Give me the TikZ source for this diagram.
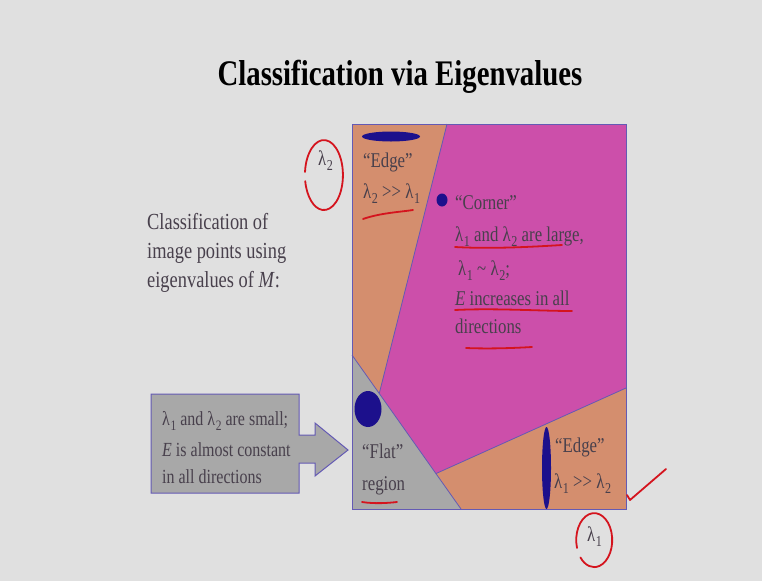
\documentclass[tikz,border=0pt]{standalone}
\usepackage{fontspec}
\setmainfont[FakeStretch=0.8]{Liberation Serif}
\usetikzlibrary{calc}
\definecolor{bgc}{RGB}{224,224,224}
\definecolor{orng}{RGB}{212,142,110}
\definecolor{mgnt}{RGB}{204,79,170}
\definecolor{flatg}{RGB}{168,168,168}
\definecolor{txtg}{RGB}{72,64,76}
\definecolor{navy2}{RGB}{28,16,140}
\definecolor{bord}{RGB}{100,90,180}
\definecolor{pen}{RGB}{212,20,30}
\newcommand\lsub[2]{#1\kern0.03em\raisebox{-0.28em}{\scalebox{0.72}{#2}}}
\begin{document}
\begin{tikzpicture}[x=1pt,y=-1pt,
  txt/.style={anchor=base west, inner sep=0pt, text=txtg, font=\fontsize{21}{25}\selectfont},
  lefttxt/.style={anchor=base west, inner sep=0pt, text=txtg, font=\fontsize{23}{29}\selectfont},
  boxtxt/.style={anchor=base west, inner sep=0pt, text=txtg, font=\fontsize{20}{24}\selectfont},
  divider/.style={draw=bord, line width=0.8pt},
  blob/.style={fill=navy2},
  redpen/.style={draw=pen, line width=1.8pt, line cap=round, line join=round}]
\fill[bgc] (0,0) rectangle (762,581);
\useasboundingbox (0,0) rectangle (762,581);

% title
\node[anchor=base, inner sep=0pt, text=black, font=\fontsize{36}{40}\selectfont\bfseries] (title) at (400,85) {Classification via Eigenvalues};

% left text
\node[lefttxt] (l1) at (147,229) {Classification of};
\node[lefttxt] (l2) at (147,258) {image points using};
\node[lefttxt] (l3) at (147,287) {eigenvalues of \textit{M}:};

% regions
\coordinate (TL) at (352,124);
\coordinate (TR) at (626,124);
\coordinate (BR) at (626,509);
\coordinate (BL) at (352,509);
\coordinate (a) at (447,124);
\coordinate (g1) at (352,355);
\coordinate (g2) at (461,509);
\coordinate (b) at ($(g1)!0.25!(g2)$);
\coordinate (c) at ($(g1)!0.77!(g2)$);
\coordinate (d) at (626,388);
\fill[orng] (TL) rectangle (BR);
\fill[mgnt] (a) -- (TR) -- (d) -- (c) -- (b) -- cycle;
\fill[flatg] (g1) -- (g2) -- (BL) -- cycle;
\draw[divider] (a) -- (b);
\draw[divider] (g1) -- (g2);
\draw[divider] (c) -- (d);
\draw[draw=bord, line width=1pt] (TL) rectangle (BR);

% blobs
\fill[blob] (391,136.5) ellipse [x radius=29, y radius=5];
\fill[blob] (442,200) ellipse [x radius=5.5, y radius=6.5];
\fill[blob] (368,409) ellipse [x radius=13.5, y radius=18];
\fill[blob] (546.5,468) ellipse [x radius=4.5, y radius=41];

% region texts
\node[txt] (e1) at (363,167) {“Edge”};
\node[txt] (e1r) at (363,198) {\lsub{λ}{2} >{}> \lsub{λ}{1}};
\node[txt] (c1) at (455,209) {“Corner”};
\node[txt] (c2) at (455,241) {\lsub{λ}{1} and \lsub{λ}{2} are large,};
\node[txt] (c3) at (458,275) {\lsub{λ}{1} \textasciitilde{} \lsub{λ}{2};};
\node[txt] (c4) at (455,305) {\textit{E} increases in all};
\node[txt] (c5) at (455,333) {directions};
\node[txt] (f1) at (362,458) {“Flat”};
\node[txt] (f2) at (362,490) {region};
\node[txt] (e2) at (555,452) {“Edge”};
\node[txt] (e2r) at (554,488) {\lsub{λ}{1} >{}> \lsub{λ}{2}};

% gray callout box with arrow
\coordinate (p1) at (151,394);
\coordinate (p2) at (299,394);
\coordinate (p3) at (299,435);
\coordinate (p4) at (315,435);
\coordinate (p5) at (315,423);
\coordinate (tip) at (348,450);
\coordinate (p6) at (315,476);
\coordinate (p7) at (315,463);
\coordinate (p8) at (299,463);
\coordinate (p9) at (299,493);
\coordinate (p10) at (151,493);
\filldraw[fill=flatg, draw=bord, line width=1pt] (p1) -- (p2) -- (p3) -- (p4) -- (p5) -- (tip) -- (p6) -- (p7) -- (p8) -- (p9) -- (p10) -- cycle;
\node[boxtxt] (b1) at (162,425) {\lsub{λ}{1} and \lsub{λ}{2} are small;};
\node[boxtxt] (b2) at (162,456) {\textit{E} is almost constant};
\node[boxtxt] (b3) at (162,483) {in all directions};

% axis labels (handwritten circles)
\node[anchor=base west, inner sep=0pt, text=txtg, font=\fontsize{21}{25}\selectfont] (ax2) at (318,165) {\lsub{λ}{2}};
\node[anchor=base west, inner sep=0pt, text=txtg, font=\fontsize{21}{25}\selectfont] (ax1) at (587,541) {\lsub{λ}{1}};
\draw[redpen] (305,172) arc[start angle=185, end angle=530, x radius=19, y radius=35];
\draw[redpen] (577,548) arc[start angle=163, end angle=500, x radius=18, y radius=27];

% red underlines and check mark
\draw[redpen] (363,219) .. controls (380,213) and (400,212) .. (413,210);
\draw[redpen] (455,247) .. controls (490,249) and (530,247) .. (562,245);
\draw[redpen] (455,310) .. controls (495,308) and (540,311) .. (572,311);
\draw[redpen] (466,348) .. controls (490,349) and (515,348) .. (532,347);
\draw[redpen] (362,502) .. controls (375,504) and (388,503) .. (397,502);
\draw[redpen] (627,495) -- (630,500) -- (666,469);
\end{tikzpicture}
\end{document}
